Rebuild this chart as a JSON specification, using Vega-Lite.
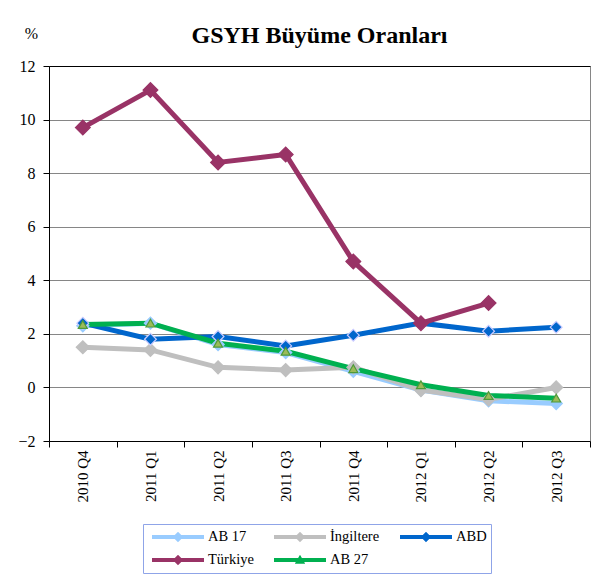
{
  "$schema": "https://vega.github.io/schema/vega-lite/v6.json",
  "width": 541,
  "height": 375,
  "autosize": {"type": "none"},
  "padding": {"left": 49, "top": 66, "right": 7, "bottom": 142},
  "background": "white",
  "config": {
    "font": "Liberation Serif",
    "view": {"stroke": "#868686", "strokeWidth": 1}
  },
  "title": {
    "text": "GSYH Büyüme Oranları",
    "fontSize": 24,
    "fontWeight": "bold",
    "font": "Liberation Serif",
    "color": "black",
    "anchor": "middle",
    "baseline": "alphabetic",
    "offset": -42
  },
  "data": {
    "values": [
      {"q": "2010 Q4", "s": "AB 17", "v": 2.3},
      {"q": "2011 Q1", "s": "AB 17", "v": 2.4},
      {"q": "2011 Q2", "s": "AB 17", "v": 1.6},
      {"q": "2011 Q3", "s": "AB 17", "v": 1.3},
      {"q": "2011 Q4", "s": "AB 17", "v": 0.6},
      {"q": "2012 Q1", "s": "AB 17", "v": -0.1},
      {"q": "2012 Q2", "s": "AB 17", "v": -0.5},
      {"q": "2012 Q3", "s": "AB 17", "v": -0.6},
      {"q": "2010 Q4", "s": "İngiltere", "v": 1.5},
      {"q": "2011 Q1", "s": "İngiltere", "v": 1.4},
      {"q": "2011 Q2", "s": "İngiltere", "v": 0.75},
      {"q": "2011 Q3", "s": "İngiltere", "v": 0.65},
      {"q": "2011 Q4", "s": "İngiltere", "v": 0.75},
      {"q": "2012 Q1", "s": "İngiltere", "v": -0.1},
      {"q": "2012 Q2", "s": "İngiltere", "v": -0.45},
      {"q": "2012 Q3", "s": "İngiltere", "v": 0.0},
      {"q": "2010 Q4", "s": "ABD", "v": 2.4},
      {"q": "2011 Q1", "s": "ABD", "v": 1.8},
      {"q": "2011 Q2", "s": "ABD", "v": 1.9},
      {"q": "2011 Q3", "s": "ABD", "v": 1.55},
      {"q": "2011 Q4", "s": "ABD", "v": 1.95},
      {"q": "2012 Q1", "s": "ABD", "v": 2.4},
      {"q": "2012 Q2", "s": "ABD", "v": 2.1},
      {"q": "2012 Q3", "s": "ABD", "v": 2.25},
      {"q": "2010 Q4", "s": "Türkiye", "v": 9.7},
      {"q": "2011 Q1", "s": "Türkiye", "v": 11.1},
      {"q": "2011 Q2", "s": "Türkiye", "v": 8.4},
      {"q": "2011 Q3", "s": "Türkiye", "v": 8.7},
      {"q": "2011 Q4", "s": "Türkiye", "v": 4.7},
      {"q": "2012 Q1", "s": "Türkiye", "v": 2.4},
      {"q": "2012 Q2", "s": "Türkiye", "v": 3.15},
      {"q": "2010 Q4", "s": "AB 27", "v": 2.35},
      {"q": "2011 Q1", "s": "AB 27", "v": 2.4},
      {"q": "2011 Q2", "s": "AB 27", "v": 1.65},
      {"q": "2011 Q3", "s": "AB 27", "v": 1.35},
      {"q": "2011 Q4", "s": "AB 27", "v": 0.7},
      {"q": "2012 Q1", "s": "AB 27", "v": 0.1},
      {"q": "2012 Q2", "s": "AB 27", "v": -0.3},
      {"q": "2012 Q3", "s": "AB 27", "v": -0.4}
    ]
  },
  "encoding": {
    "x": {
      "field": "q",
      "type": "nominal",
      "sort": null,
      "scale": {"type": "band", "paddingInner": 0, "paddingOuter": 0},
      "axis": {
        "title": null,
        "labelAngle": 270,
        "labelFont": "Liberation Serif",
        "labelFontSize": 15,
        "labelColor": "black",
        "labelPadding": 3,
        "tickBand": "extent",
        "tickSize": 6,
        "tickColor": "black",
        "domainColor": "black",
        "grid": false
      }
    },
    "y": {
      "field": "v",
      "type": "quantitative",
      "scale": {"domain": [-2, 12], "nice": false, "zero": false},
      "axis": {
        "values": [-2, 0, 2, 4, 6, 8, 10, 12],
        "title": "%",
        "titleFont": "Liberation Serif",
        "titleAngle": 0,
        "titleX": -18,
        "titleY": -33,
        "titleAlign": "center",
        "titleBaseline": "middle",
        "titleFontSize": 16,
        "titleFontWeight": "normal",
        "titleColor": "black",
        "labelFont": "Liberation Serif",
        "labelFontSize": 16,
        "labelColor": "black",
        "labelPadding": 8,
        "tickSize": 6,
        "tickColor": "black",
        "domainColor": "black",
        "grid": true,
        "gridColor": {"condition": {"test": "datum.value === 12", "value": "black"}, "value": "#868686"},
        "gridOpacity": 1
      }
    }
  },
  "layer": [
    {
      "mark": {"type": "line", "strokeJoin": "miter", "strokeWidth": 5},
      "encoding": {
        "color": {
          "field": "s",
          "type": "nominal",
          "sort": null,
          "scale": {
            "domain": ["AB 17", "İngiltere", "ABD", "Türkiye", "AB 27"],
            "range": ["#99CCFF", "#BFBFBF", "#0066CC", "#993366", "#00B050"]
          },
          "legend": {
            "orient": "none",
            "legendX": 94,
            "legendY": 458,
            "direction": "horizontal",
            "columns": 3,
            "title": null,
            "symbolType": "M-1,-0.08L1,-0.08L1,0.08L-1,0.08Z M0,-0.2L0.2,0L0,0.2L-0.2,0Z",
            "symbolSize": 2704,
            "symbolStrokeWidth": 0,
            "clipHeight": 18,
            "labelFontSize": 14.5,
            "labelFont": "Liberation Serif",
            "labelColor": "black",
            "labelLimit": 0,
            "labelOffset": 4,
            "strokeColor": "#8FA4E8",
            "fillColor": "white",
            "padding": 4,
            "rowPadding": 5,
            "columnPadding": 15,
            "symbolOffset": 5,
            "encode": {
              "symbols": {
                "update": {
                  "shape": {"signal": "datum.value === 'AB 27' ? 'M-1,-0.08L1,-0.08L1,0.08L-1,0.08Z M0,-0.2L0.2,0.14L-0.2,0.14Z' : 'M-1,-0.08L1,-0.08L1,0.08L-1,0.08Z M0,-0.2L0.2,0L0,0.2L-0.2,0Z'"},
                  "fill": {"scale": "color", "field": "value"},
                  "strokeWidth": {"value": 0},
                  "opacity": {"value": 1}
                }
              }
            }
          }
        }
      }
    },
    {
      "mark": {"type": "point", "filled": true, "opacity": 1, "strokeWidth": 1.2},
      "encoding": {
        "shape": {"condition": {"test": "datum.s === 'AB 27'", "value": "triangle-up"}, "value": "diamond"},
        "fill": {
          "condition": [
            {"test": "datum.s === 'AB 17'", "value": "#99CCFF"},
            {"test": "datum.s === 'İngiltere'", "value": "#BFBFBF"},
            {"test": "datum.s === 'ABD'", "value": "#0066CC"},
            {"test": "datum.s === 'Türkiye'", "value": "#993366"}
          ],
          "value": "#9BBB59"
        },
        "stroke": {
          "condition": [
            {"test": "datum.s === 'AB 17'", "value": "#99CCFF"},
            {"test": "datum.s === 'İngiltere'", "value": "#BFBFBF"},
            {"test": "datum.s === 'ABD'", "value": "#CCCCFF"},
            {"test": "datum.s === 'Türkiye'", "value": "#993366"}
          ],
          "value": "#4E9A3A"
        },
        "size": {
          "condition": [
            {"test": "datum.s === 'Türkiye'", "value": 220},
            {"test": "datum.s === 'İngiltere'", "value": 170},
            {"test": "datum.s === 'AB 17'", "value": 150},
            {"test": "datum.s === 'AB 27'", "value": 80}
          ],
          "value": 140
        }
      }
    }
  ]
}
